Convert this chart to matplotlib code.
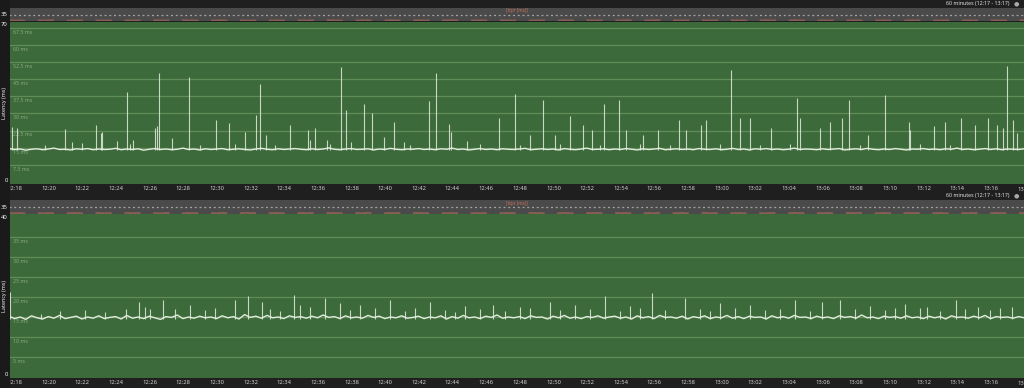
import numpy as np
import pandas as pd
import matplotlib
matplotlib.use("Agg")
import matplotlib.pyplot as plt
import matplotlib.dates as mdates
import matplotlib.transforms as mtrans
from matplotlib.patches import Rectangle

plt.rcParams['font.family'] = ['Noto Sans', 'DejaVu Sans']

DAY = "2024-01-01 "
START = "12:17:39"
END = "13:17:58"

# baseline latency, one sample every 20 s from 12:17:39
top_base = [
    14.6, 14.2, 14.4, 13.9, 14.3, 14.5, 14.1, 14.4, 14.8, 14.2, 14.3, 14.0, 14.5, 14.3, 14.6, 14.1, 14.4, 14.2,
    14.3, 14.7, 14.1, 14.4, 14.2, 14.5, 13.9, 14.3, 14.6, 14.2, 14.4, 14.1, 14.3, 14.8, 14.2, 14.4, 14.0, 14.5,
    14.2, 14.4, 14.6, 14.1, 14.3, 14.5, 14.2, 14.0, 14.4, 14.7, 14.3, 14.1, 14.5, 14.2, 14.4, 14.6, 14.3, 14.1,
    14.5, 14.2, 14.4, 14.9, 14.3, 14.1, 14.4, 14.6, 14.2, 14.3, 14.5, 14.0, 14.4, 14.2, 14.7, 14.3, 14.1, 14.4,
    14.3, 14.6, 14.2, 14.4, 14.1, 14.5, 14.3, 14.8, 14.2, 14.4, 14.0, 14.3, 14.6, 14.2, 14.4, 14.1, 14.5, 14.3,
    14.2, 14.4, 14.7, 14.1, 14.3, 14.5, 14.2, 14.4, 14.0, 14.6, 14.3, 14.1, 14.4, 14.8, 14.2, 14.3, 14.5, 14.1,
    14.4, 14.2, 14.6, 14.3, 14.0, 14.5, 14.2, 14.4, 14.7, 14.1, 14.3, 14.5, 14.2, 14.4, 14.1, 14.6, 14.3, 14.2,
    14.5, 14.1, 14.3, 14.7, 14.2, 14.4, 14.0, 14.5, 14.3, 14.6, 14.2, 14.4, 14.1, 14.3, 14.8, 14.2, 14.4, 14.3,
    14.1, 14.5, 14.2, 14.4, 14.6, 14.0, 14.3, 14.5, 14.2, 14.7, 14.3, 14.1, 14.4, 14.2, 14.6, 14.3, 14.0, 14.4,
    14.3, 14.6, 14.2, 14.4, 14.1, 14.5, 14.3, 14.8, 14.2, 14.4, 14.1, 14.3, 14.6, 14.2, 14.5, 14.1, 14.4, 14.3,
    14.2, 14.5,
]
bottom_base = [
    15.2, 14.6, 15.0, 14.4, 15.3, 14.8, 14.5, 15.1, 14.7, 15.4, 14.6, 14.9, 15.2, 14.5, 15.0, 14.7, 15.3, 14.6,
    14.9, 15.1, 14.5, 15.4, 14.7, 15.0, 14.6, 15.2, 14.8, 14.4, 15.1, 14.9, 15.5, 14.6, 15.0, 14.7, 15.2, 14.8,
    15.0, 14.6, 15.3, 14.8, 15.1, 14.5, 15.6, 14.9, 15.2, 14.7, 15.4, 14.8, 15.0, 14.6, 15.3, 14.9, 15.1, 14.7,
    15.2, 14.8, 15.5, 14.9, 15.1, 14.6, 15.3, 14.8, 15.0, 14.7, 15.4, 14.9, 15.2, 14.6, 15.0, 14.8, 15.3, 14.7,
    14.9, 15.2, 14.6, 15.0, 14.8, 15.3, 14.5, 15.1, 14.7, 15.4, 14.8, 15.0, 14.6, 15.2, 14.9, 15.5, 14.7, 15.0,
    14.8, 15.1, 14.6, 15.3, 14.9, 15.0, 14.5, 15.2, 14.8, 15.4, 14.7, 15.0, 14.6, 15.1, 14.9, 15.3, 14.7, 15.0,
    15.2, 14.7, 15.0, 14.5, 15.3, 14.8, 15.1, 14.6, 15.4, 14.9, 15.0, 14.7, 15.2, 14.5, 15.1, 14.8, 15.3, 14.6,
    15.0, 14.8, 15.4, 14.7, 15.1, 14.6, 15.2, 14.9, 15.0, 14.5, 15.3, 14.8, 15.1, 14.7, 15.4, 14.9, 15.0, 14.6,
    15.2, 14.8, 15.0, 14.6, 15.3, 14.9, 15.1, 14.7, 15.5, 14.8, 15.0, 14.6, 15.2, 14.9, 15.1, 14.7, 15.3, 14.8,
    15.0, 14.6, 15.2, 14.8, 15.1, 14.5, 15.3, 14.9, 15.0, 14.7, 15.2, 14.8, 15.4, 14.6, 15.1, 14.9, 15.0, 14.7,
    15.1, 14.8,
]

# single-sample latency spikes
top_spike_times = [
    "12:17:50", "12:18:08", "12:20:59", "12:21:24", "12:21:59", "12:22:49", "12:23:07", "12:23:11",
    "12:24:04", "12:24:40", "12:25:01", "12:26:20", "12:26:27", "12:26:34", "12:27:20", "12:28:21",
    "12:29:57", "12:30:44", "12:31:41", "12:32:20", "12:32:34", "12:32:56", "12:34:21", "12:35:25",
    "12:35:32", "12:35:50", "12:36:33", "12:37:23", "12:37:41", "12:37:59", "12:38:45", "12:39:13",
    "12:39:56", "12:40:32", "12:41:08", "12:42:37", "12:43:02", "12:43:48", "12:43:55", "12:44:52",
    "12:46:46", "12:47:43", "12:48:37", "12:49:23", "12:50:06", "12:50:59", "12:51:46", "12:52:18",
    "12:53:01", "12:53:54", "12:54:19", "12:55:20", "12:56:13", "12:57:28", "12:57:53", "12:58:46",
    "12:59:04", "13:00:34", "13:01:05", "13:01:41", "13:02:56", "13:04:29", "13:04:39", "13:05:50",
    "13:06:26", "13:07:09", "13:07:34", "13:08:42", "13:09:43", "13:11:08", "13:11:11", "13:12:37",
    "13:13:16", "13:14:13", "13:15:03", "13:15:50", "13:16:22", "13:16:43", "13:16:58", "13:17:19",
    "13:17:33",
    "12:19:47", "12:24:50", "12:29:00", "12:31:05", "12:33:28", "12:36:44", "12:41:29", "12:45:38",
    "12:48:01", "12:50:24", "12:52:46", "12:55:09", "12:56:56", "12:59:54", "13:02:17", "13:04:04",
    "13:08:13", "13:11:47", "13:13:34",
]
top_spike_ms = [
    24.1, 23.6, 23.2, 17.5, 17.1, 24.9, 21.4, 21.9,
    17.9, 39.4, 18.4, 23.6, 24.5, 47.7, 19.3, 45.9,
    27.1, 25.8, 21.9, 29.3, 42.9, 20.6, 24.9, 22.8,
    18.4, 23.6, 18.4, 50.3, 31.5, 17.5, 34.1, 30.2,
    19.7, 26.3, 17.5, 35.4, 47.7, 25.4, 21.9, 17.9,
    28.0, 38.5, 20.6, 35.9, 20.6, 28.9, 24.9, 22.8,
    34.1, 35.9, 22.8, 20.6, 22.8, 27.1, 22.8, 24.9,
    27.1, 49.0, 28.0, 28.0, 23.6, 36.8, 28.0, 23.6,
    26.3, 28.0, 35.9, 20.6, 38.1, 26.3, 22.8, 24.5,
    26.3, 28.0, 24.9, 28.0, 24.9, 23.6, 50.8, 27.1,
    21.4,
    16.2, 16.5, 16.0, 16.4, 16.2, 16.6, 16.0, 16.4,
    16.2, 16.5, 16.1, 16.4, 16.2, 16.6, 16.0, 16.4,
    16.2, 16.5, 16.1,
]
bottom_spike_times = [
    "12:17:43", "12:19:33", "12:24:37", "12:25:23", "12:25:44", "12:26:02", "12:26:48", "12:28:25",
    "12:31:05", "12:31:51", "12:32:41", "12:34:35", "12:34:57", "12:36:26", "12:37:19", "12:38:30",
    "12:40:17", "12:42:40", "12:44:45", "12:46:25", "12:48:01", "12:49:48", "12:51:17", "12:53:04",
    "12:54:33", "12:55:52", "12:57:49", "12:59:54", "13:01:41", "13:04:21", "13:05:58", "13:07:02",
    "13:08:49", "13:10:53", "13:11:47", "13:12:12", "13:13:55", "13:15:14", "13:17:15",
    "12:20:41", "12:22:10", "12:23:22", "12:27:31", "12:29:18", "12:29:54", "12:33:10", "12:33:46",
    "12:35:32", "12:37:55", "12:39:24", "12:41:11", "12:41:47", "12:43:34", "12:44:10", "12:45:38",
    "12:47:08", "12:48:37", "12:50:24", "12:52:11", "12:53:58", "12:55:09", "12:56:38", "12:58:43",
    "12:59:19", "13:00:48", "13:02:35", "13:03:28", "13:05:15", "13:07:56", "13:09:43", "13:10:18",
    "13:12:58", "13:14:28", "13:15:57", "13:16:33",
]
bottom_spike_ms = [
    21.2, 15.8, 17.0, 18.8, 17.5, 17.0, 19.2, 18.0,
    19.2, 20.2, 18.8, 20.5, 18.0, 19.8, 18.5, 18.0,
    19.2, 18.8, 17.8, 18.0, 17.5, 18.8, 18.0, 20.2,
    17.8, 21.0, 19.8, 18.5, 18.0, 19.2, 18.8, 19.2,
    17.8, 18.2, 17.2, 17.5, 19.2, 17.5, 17.5,
    16.5, 16.8, 16.3, 17.0, 16.8, 17.3, 17.0, 16.5,
    17.5, 16.8, 17.2, 16.5, 17.3, 16.8, 16.3, 17.0,
    16.5, 17.2, 16.8, 17.0, 16.5, 17.3, 16.8, 17.0,
    16.5, 17.2, 16.8, 17.0, 16.5, 17.0, 16.8, 17.3,
    16.5, 17.0, 16.8, 17.2,
]

top_grid = [7.5, 15, 22.5, 30, 37.5, 45, 52.5, 60, 67.5]
top_grid_labels = ["7.5 ms", "15 ms", "22.5 ms", "30 ms", "37.5 ms", "45 ms", "52.5 ms", "60 ms", "67.5 ms"]
bottom_grid = [5, 10, 15, 20, 25, 30, 35]
bottom_grid_labels = ["5 ms", "10 ms", "15 ms", "20 ms", "25 ms", "30 ms", "35 ms"]

header_text = "60 minutes (12:17 - 13:17)"
series_name = "[ttpr (ms)]"

BG = "#1f1f1f"
LEFT = "#1a1a1a"
GREEN = "#3d6a3a"
GRID = "#5f8c58"
GRID_TXT = "#86aa80"
LINE = "#e3ecdf"
STRIP = "#4a4a4a"
RED = "#c2705f"

W, H = 1024, 388


def fx(x):
    return x / W


def fy(y):
    return 1 - y / H


t0 = pd.Timestamp(DAY + START)
t1 = pd.Timestamp(DAY + END)

fig = plt.figure(figsize=(10.24, 3.88), dpi=100, facecolor=BG)


def panel(y_strip, y_top, y_bot, base, sp_t, sp_v, ymax, ylo, grid, grid_labels):
    times = pd.date_range(DAY + START, periods=len(base), freq="20s")
    spikes = pd.to_datetime([DAY + s for s in sp_t])

    # overview strip
    axs = fig.add_axes([fx(9), fy(y_strip[1]), fx(W - 9), (y_strip[1] - y_strip[0]) / H])
    axs.set_facecolor(STRIP)
    axs.set_xlim(t0, t1)
    axs.set_ylim(0, 70)
    axs.axhline(35, color="#a2a2a2", lw=0.9, ls=(0, (1.6, 2.2)))
    axs.set_xticks([])
    axs.set_yticks([])
    for s in axs.spines.values():
        s.set_visible(False)
    axr = axs.twinx()
    axr.set_ylim(13.2, 40)
    axr.plot(times, base, color=RED, lw=1.3, alpha=0.55, ls=(0, (9, 7)))
    axr.set_yticks([])
    for s in axr.spines.values():
        s.set_visible(False)
    axs.text(0.5, 0.78, series_name, transform=axs.transAxes, ha="center", va="center",
             fontsize=3.4, color=RED)

    # main latency chart
    ax = fig.add_axes([fx(9), fy(y_bot), fx(W - 9), (y_bot - y_top) / H])
    ax.set_facecolor(GREEN)
    ax.set_xlim(t0, t1)
    ax.set_ylim(ylo, ymax)
    trans = mtrans.blended_transform_factory(ax.transAxes, ax.transData)
    for g, lab in zip(grid, grid_labels):
        ax.axhline(g, color=GRID, lw=0.9, zorder=1)
        ax.text(0.0035, g - ymax * 0.012, lab, transform=trans, ha="left", va="top",
                fontsize=3.8, color=GRID_TXT, zorder=1)
    ax.vlines(spikes, min(base), sp_v, color=LINE, lw=0.8, alpha=0.85, zorder=3)
    ax.plot(times, base, color=LINE, lw=1.0, zorder=4)

    ax.xaxis.set_major_locator(mdates.MinuteLocator(byminute=range(0, 60, 2)))
    ax.xaxis.set_major_formatter(mdates.DateFormatter("%H:%M"))
    ax.tick_params(axis="x", length=0, pad=1.2, labelsize=4.2, colors="#cfcfcf")
    ax.set_yticks([])
    for s in ax.spines.values():
        s.set_visible(False)
    # partially visible 13:18 label at the right edge
    xt = mtrans.blended_transform_factory(ax.transData, ax.transAxes)
    ax.text(pd.Timestamp(DAY + "13:18:00"), -0.02, "13:18", transform=xt, ha="center", va="top",
            fontsize=4.2, color="#cfcfcf", clip_on=False)

    # header text
    fig.text(fx(1009), fy(y_strip[0] - 4.5), header_text, ha="right", va="center",
             fontsize=3.8, color="#e4e4e4")
    fig.text(fx(1016), fy(y_strip[0] - 4.5), "\u25cf", ha="center", va="center",
             fontsize=4.5, color="#a8a8a8", family="DejaVu Sans")
    return ax


panel((8, 21), 22, 184, top_base, top_spike_times, top_spike_ms, 70, -0.9, top_grid, top_grid_labels)
panel((200, 214), 214, 378, bottom_base, bottom_spike_times, bottom_spike_ms, 40.75, -0.25,
      bottom_grid, bottom_grid_labels)

# dark left column drawn over everything
fig.add_artist(Rectangle((0, 0), fx(9.5), 1, transform=fig.transFigure, facecolor=LEFT,
                         edgecolor="none", zorder=5))

labels = [("35", 14.5), ("70", 25), ("0", 181), ("35", 207.5), ("40", 217.5), ("0", 374)]
for txt, yy in labels:
    fig.text(fx(7.8), fy(yy), txt, ha="right", va="center", fontsize=4.3, color="#f0f0f0", zorder=6)
for yy in (103, 296):
    fig.text(fx(4.8), fy(yy), "Latency (ms)", rotation=90, ha="center", va="center",
             fontsize=3.9, fontweight="bold", color="#f0f0f0", zorder=6)

fig.savefig("out.png", dpi=100, facecolor=BG)
